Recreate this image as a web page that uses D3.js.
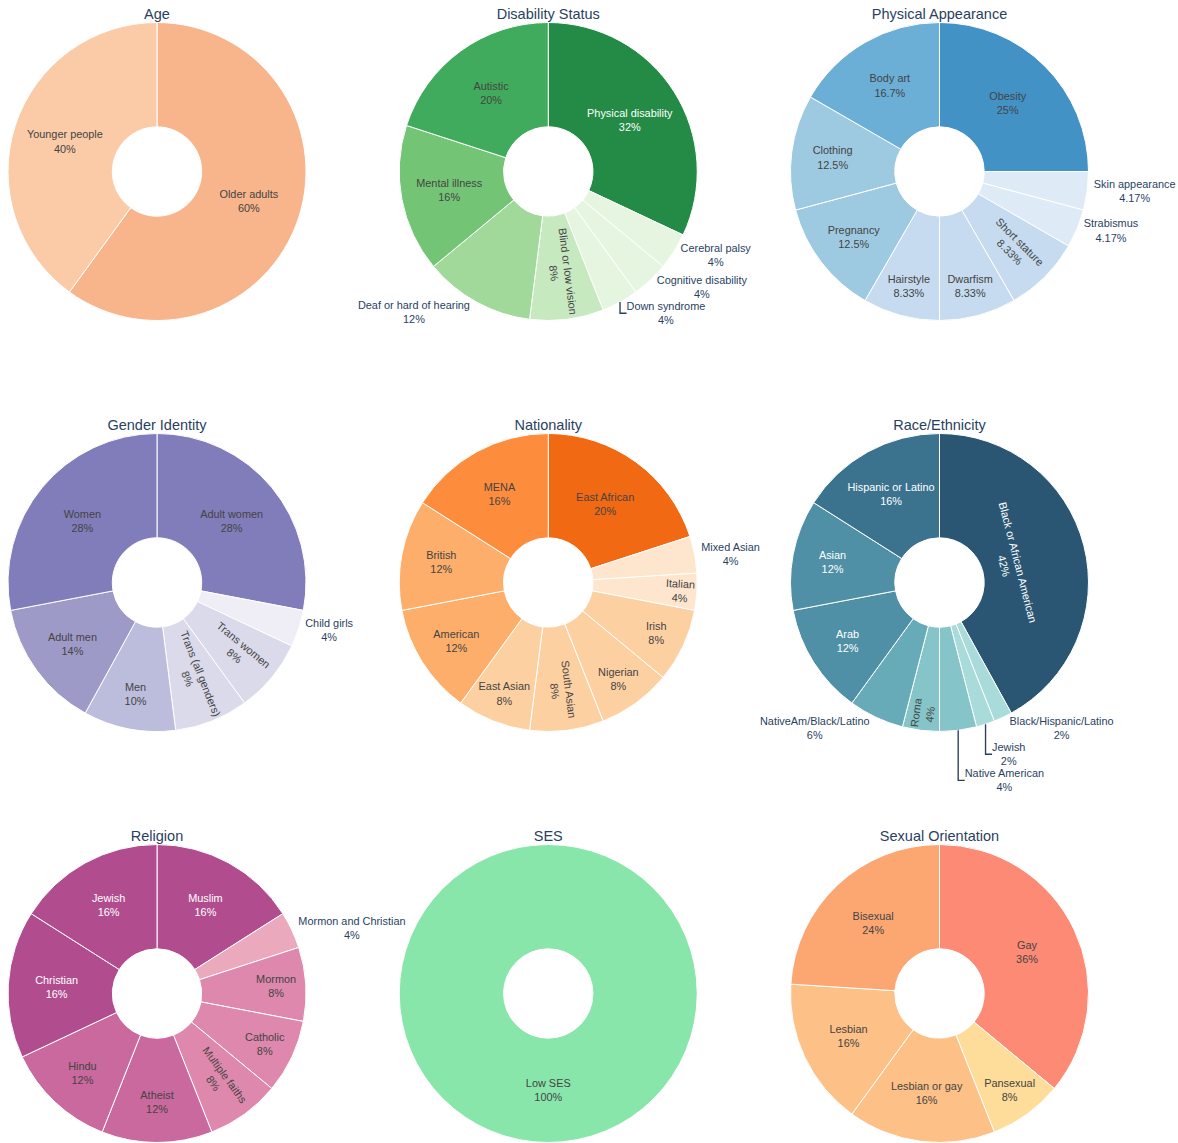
<!DOCTYPE html>
<html>
  <head>
    <meta charset="utf-8">
    <title>Representation breakdown</title>
    <script src="https://d3js.org/d3.v7.min.js"></script>
    <style>
      body { margin: 0; background: #fff; }
      svg { font-family: "Liberation Sans", Arial, sans-serif; }
    </style>
  </head>
  <body>
    <svg id="chart" width="1178" height="1143"></svg>
    <script>
      // slices listed clockwise from 12 o'clock
      ageLabels = ["Older adults", "Younger people"];
      ageCounts = [3, 2];
      disabilityLabels = ["Physical disability", "Cerebral palsy", "Cognitive disability", "Down syndrome",
        "Blind or low vision", "Deaf or hard of hearing", "Mental illness", "Autistic"];
      disabilityCounts = [8, 1, 1, 1, 2, 3, 4, 5];
      appearanceLabels = ["Obesity", "Skin appearance", "Strabismus", "Short stature", "Dwarfism",
        "Hairstyle", "Pregnancy", "Clothing", "Body art"];
      appearanceCounts = [6, 1, 1, 2, 2, 2, 3, 3, 4];
      genderLabels = ["Adult women", "Child girls", "Trans women", "Trans (all genders)", "Men",
        "Adult men", "Women"];
      genderCounts = [14, 2, 4, 4, 5, 7, 14];
      nationalityLabels = ["East African", "Mixed Asian", "Italian", "Irish", "Nigerian", "South Asian",
        "East Asian", "American", "British", "MENA"];
      nationalityCounts = [5, 1, 1, 2, 2, 2, 2, 3, 3, 4];
      raceLabels = ["Black or African American", "Black/Hispanic/Latino", "Jewish", "Native American",
        "Roma", "NativeAm/Black/Latino", "Arab", "Asian", "Hispanic or Latino"];
      raceCounts = [21, 1, 1, 2, 2, 3, 6, 6, 8];
      religionLabels = ["Muslim", "Mormon and Christian", "Mormon", "Catholic", "Multiple faiths",
        "Atheist", "Hindu", "Christian", "Jewish"];
      religionCounts = [4, 1, 2, 2, 2, 3, 3, 4, 4];
      sesLabels = ["Low SES"];
      sesCounts = [1];
      orientationLabels = ["Gay", "Pansexual", "Lesbian or gay", "Lesbian", "Bisexual"];
      orientationCounts = [9, 2, 4, 4, 6];

      // colours, one per slice
      ageColors = ["#f8b58b", "#facba6"];
      disabilityColors = ["#238b45", "#e5f5e0", "#e5f5e0", "#e5f5e0", "#c7e9c0", "#a1d99b", "#74c476", "#41ab5d"];
      appearanceColors = ["#4292c6", "#deebf7", "#deebf7", "#c6dbef", "#c6dbef", "#c6dbef", "#9ecae1", "#9ecae1", "#6baed6"];
      genderColors = ["#807dba", "#efedf5", "#dadaeb", "#dadaeb", "#bcbddc", "#9e9ac8", "#807dba"];
      nationalityColors = ["#f16913", "#fee6ce", "#fee6ce", "#fdd0a2", "#fdd0a2", "#fdd0a2", "#fdd0a2", "#fdae6b", "#fdae6b", "#fd8d3c"];
      raceColors = ["#2a5674", "#a8dbd9", "#a8dbd9", "#85c4c9", "#85c4c9", "#68abb8", "#4f90a6", "#4f90a6", "#3b738f"];
      religionColors = ["#b14d8e", "#eaa9bd", "#dd88ac", "#dd88ac", "#dd88ac", "#ca699d", "#ca699d", "#b14d8e", "#b14d8e"];
      sesColors = ["#89e6ab"];
      orientationColors = ["#fc8a75", "#fedc99", "#fdc086", "#fdc086", "#fca672"];

      panels = [
        ["Age", ageLabels, ageCounts, ageColors],
        ["Disability Status", disabilityLabels, disabilityCounts, disabilityColors],
        ["Physical Appearance", appearanceLabels, appearanceCounts, appearanceColors],
        ["Gender Identity", genderLabels, genderCounts, genderColors],
        ["Nationality", nationalityLabels, nationalityCounts, nationalityColors],
        ["Race/Ethnicity", raceLabels, raceCounts, raceColors],
        ["Religion", religionLabels, religionCounts, religionColors],
        ["SES", sesLabels, sesCounts, sesColors],
        ["Sexual Orientation", orientationLabels, orientationCounts, orientationColors]
      ];

      // layout
      R = 149;
      hole = 0.3;
      ring = 1 - hole;
      fontSize = 10.9;
      textPad = 2.7;
      colX = d3.scalePoint().domain([0, 1, 2]).range([157, 939.5]);
      rowY = d3.scalePoint().domain([0, 1, 2]).range([171.5, 993.5]);
      pctFormat = d3.format(".3~r");

      svg = d3.select("#chart");

      function isDark(c) {
        var rgb = d3.rgb(c);
        return (rgb.r * 299 + rgb.g * 587 + rgb.b * 114) / 1000 < 128;
      }

      function maxHalfSize(a, halfAngle, r) {
        var q = a + 1 / (2 * Math.tan(halfAngle));
        return r * Math.min(
          1 / (Math.sqrt(q * q + 0.5) + q),
          ring / (Math.sqrt(a * a + ring / 2) + a)
        );
      }

      function rot(t) {
        return (180 / Math.PI * t + 720) % 180 - 90;
      }

      function insideTransform(bb, pt) {
        var half = pt.halfangle, mid = pt.midangle;
        var rIns = Math.min(1 / (1 + 1 / Math.sin(half)), ring / 2);
        var hor = {
          scale: rIns * R * 2 / Math.sqrt(bb.width * bb.width + bb.height * bb.height),
          rCenter: 1 - rIns,
          rotate: 0
        };
        if (hor.scale >= 1) return hor;
        var r = Math.max(0, R - 2 * textPad);
        var a = bb.width / bb.height;
        var s = maxHalfSize(a, half, r);
        var rad = { scale: s * 2 / bb.height, rCenter: Math.cos(s / r) - a * s / r, rotate: rot(mid) };
        a = bb.height / bb.width;
        s = maxHalfSize(a, half, r);
        var tan = { scale: s * 2 / bb.width, rCenter: Math.cos(s / r) - a * s / r, rotate: rot(mid + Math.PI / 2) };
        return [hor, rad, tan].reduce(function(best, t) { return t.scale > best.scale ? t : best; });
      }

      function outsideTransform(bb, pxmid) {
        var dx = bb.width / 2, dy = bb.height / 2;
        if (pxmid[0] < 0) dx *= -1;
        if (pxmid[1] < 0) dy *= -1;
        return {
          scale: 1, rCenter: 1, rotate: 0, outside: true,
          x: dx + Math.abs(dy) * (dx > 0 ? 1 : -1) / 2,
          y: dy / (1 + pxmid[0] * pxmid[0] / (pxmid[1] * pxmid[1]))
        };
      }

      function scootLabels(quadrants) {
        function topFirst(a, b) { return a.pxmid[1] - b.pxmid[1]; }
        function bottomFirst(a, b) { return b.pxmid[1] - a.pxmid[1]; }
        for (var yHalf = 0; yHalf < 2; yHalf++) {
          var yDiffSign = yHalf ? 1 : -1;
          for (var xHalf = 0; xHalf < 2; xHalf++) {
            var thisQuad = quadrants[yHalf][xHalf];
            thisQuad.sort(yHalf ? topFirst : bottomFirst);
            var oppositeQuad = quadrants[1 - yHalf][xHalf];
            var outs = thisQuad.filter(function(p) { return p.outside; });
            var firstOpp = yHalf ? (oppositeQuad.find(function(p) { return p.outside; }) || false) : false;
            for (var i = 0; i < outs.length; i++) {
              var p = outs[i];
              var prev = i ? outs[i - 1] : false;
              if (firstOpp && !i) prev = firstOpp;
              if (!prev) continue;
              var prevOuterY = prev.labelExtraY + (yHalf ? prev.yLabelMax : prev.yLabelMin);
              var thisInnerY = yHalf ? p.yLabelMin : p.yLabelMax;
              var newExtraY = prevOuterY - thisInnerY;
              if (newExtraY * yDiffSign > 0) p.labelExtraY = newExtraY;
            }
          }
        }
      }

      panels.forEach(function(panel, idx) {
        var title = panel[0], labels = panel[1], counts = panel[2], colors = panel[3];
        var total = d3.sum(counts);
        var rows = labels.map(function(l, i) { return { label: l, value: counts[i], color: colors[i] }; });
        var arcs = d3.pie().sort(null).value(function(d) { return d.value; })(rows);
        var arc = d3.arc().innerRadius(R * hole).outerRadius(R);
        var g = svg.append("g")
          .attr("transform", "translate(" + colX(idx % 3) + "," + rowY(Math.floor(idx / 3)) + ")");

        g.selectAll("path.slice")
          .data(arcs)
          .join("path")
            .attr("class", "slice")
            .attr("d", arc)
            .attr("fill", function(d) { return d.data.color; })
            .attr("stroke", "#fff")
            .attr("stroke-width", 1);

        g.append("text")
          .attr("x", 0)
          .attr("y", -R - 4)
          .attr("text-anchor", "middle")
          .attr("font-size", 14.5)
          .attr("fill", "#2a3f5f")
          .text(title);

        var quadrants = [[[], []], [[], []]];
        var pts = arcs.map(function(d) {
          var mid = (d.startAngle + d.endAngle) / 2;
          var pt = {
            d: d,
            midangle: mid,
            halfangle: Math.PI * Math.min(d.value / total, 0.5),
            pxmid: [R * Math.sin(mid), -R * Math.cos(mid)],
            labelExtraY: 0
          };
          var txt = g.append("text")
            .attr("text-anchor", "middle")
            .attr("font-size", fontSize);
          txt.append("tspan").attr("x", 0).attr("dy", 0).text(d.data.label);
          txt.append("tspan").attr("x", 0).attr("dy", "1.3em").text(pctFormat(d.value / total * 100) + "%");
          var bb = txt.node().getBBox();
          var t = insideTransform(bb, pt);
          if (t.scale < 1) t = outsideTransform(bb, pt.pxmid);
          t.targetX = pt.pxmid[0] * t.rCenter + (t.x || 0);
          t.targetY = pt.pxmid[1] * t.rCenter + (t.y || 0);
          if (t.outside) {
            pt.outside = true;
            pt.yLabelMin = t.targetY - bb.height / 2;
            pt.yLabelMid = t.targetY;
            pt.yLabelMax = t.targetY + bb.height / 2;
          }
          pt.t = t;
          pt.bb = bb;
          pt.txt = txt;
          txt.attr("fill", t.outside ? "#2a3f5f" : (isDark(d.data.color) ? "#fff" : "#444"));
          quadrants[pt.pxmid[1] < 0 ? 0 : 1][pt.pxmid[0] < 0 ? 0 : 1].push(pt);
          return pt;
        });

        scootLabels(quadrants);

        pts.forEach(function(pt) {
          var t = pt.t, bb = pt.bb;
          var ty = t.targetY + pt.labelExtraY;
          pt.txt.attr("transform",
            "translate(" + t.targetX + "," + ty + ")" +
            (t.rotate ? " rotate(" + t.rotate + ")" : "") +
            " translate(" + (-(bb.x + bb.width / 2)) + "," + (-(bb.y + bb.height / 2)) + ")");
          if (pt.labelExtraY) {
            var finalX = (pt.yLabelMax - pt.yLabelMin) * (pt.pxmid[0] < 0 ? -1 : 1) / 4;
            g.append("path")
              .attr("d", "M" + pt.pxmid[0] + "," + pt.pxmid[1] +
                "V" + (pt.yLabelMid + pt.labelExtraY) + "h" + finalX)
              .attr("fill", "none")
              .attr("stroke", "#2a3f5f")
              .attr("stroke-width", 1.36);
          }
        });
      });
    </script>
  </body>
</html>
